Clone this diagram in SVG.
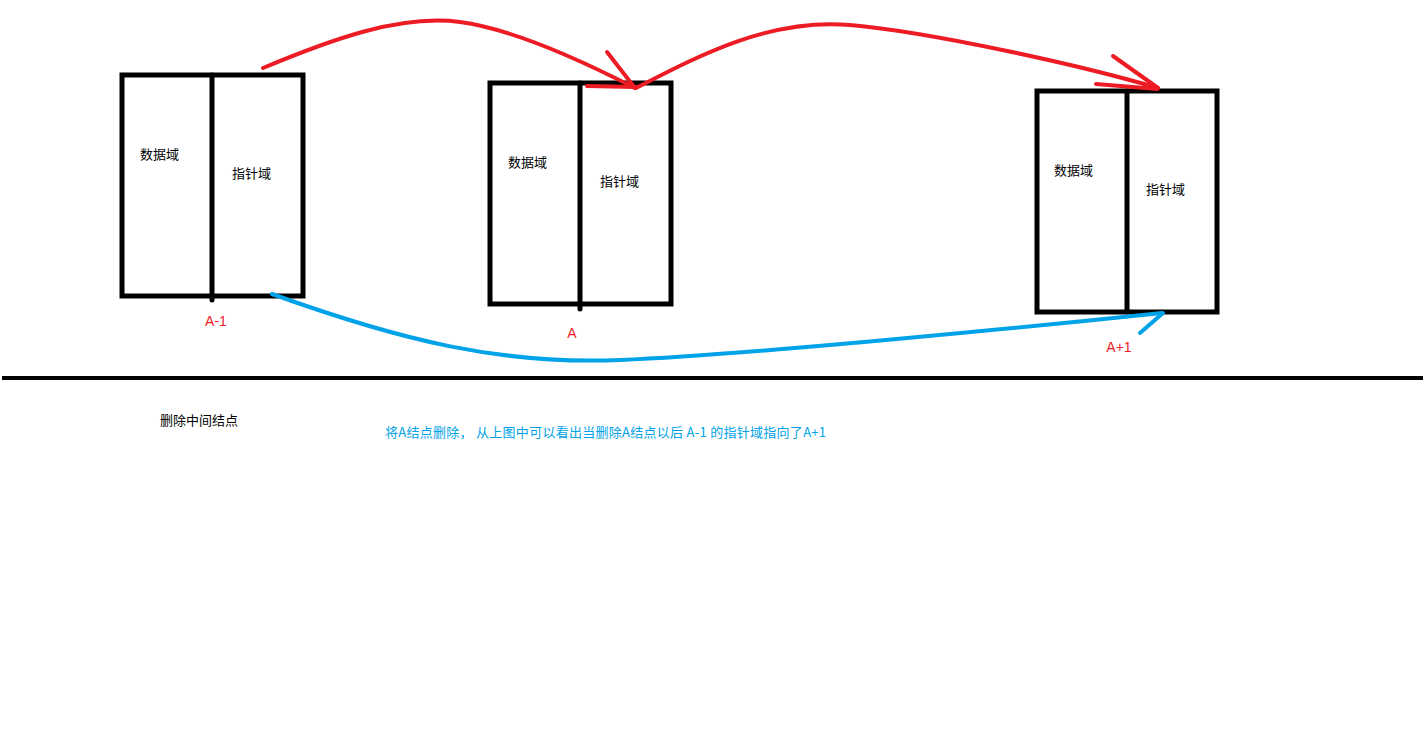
<svg xmlns="http://www.w3.org/2000/svg" width="1425" height="732" viewBox="0 0 1425 732">
<style>
.box{fill:none;stroke:#000;stroke-width:5}
.div{stroke:#000;stroke-width:5;stroke-linecap:round}
.lbl{font-family:"Microsoft YaHei","Noto Sans CJK SC",sans-serif;font-size:13px;fill:#000}
.red{fill:none;stroke:#ed1c24;stroke-width:4;stroke-linecap:round}
.blue{fill:none;stroke:#00a2e8;stroke-width:4;stroke-linecap:round}
.rt{font-family:"Liberation Sans","Noto Sans CJK SC",sans-serif;font-size:14px;fill:#ed1c24}
.bt{font-family:"Noto Sans CJK SC",sans-serif;font-size:13px;fill:#00a2e8}
</style>
<rect width="1425" height="732" fill="#fff"/>
<g id="node-a-1">
<rect class="box" x="122" y="75" width="181" height="221"/>
<line class="div" x1="212" y1="75" x2="212" y2="300"/>
<text class="lbl" x="140" y="159">数据域</text>
<text class="lbl" x="232" y="178">指针域</text>
<text class="rt" x="216" y="326" text-anchor="middle">A-1</text>
</g>
<g id="node-a">
<rect class="box" x="490" y="83" width="181" height="221"/>
<line class="div" x1="580" y1="83" x2="580" y2="309"/>
<text class="lbl" x="508" y="167">数据域</text>
<text class="lbl" x="600" y="186">指针域</text>
<text class="rt" x="572" y="338" text-anchor="middle">A</text>
</g>
<g id="node-a1">
<rect class="box" x="1037" y="91" width="180" height="221"/>
<line class="div" x1="1127" y1="91" x2="1127" y2="312"/>
<text class="lbl" x="1054" y="175">数据域</text>
<text class="lbl" x="1146" y="194">指针域</text>
<text class="rt" x="1119" y="352" text-anchor="middle">A+1</text>
</g>
<g id="connectors">
<path class="red" d="M263,68 C330,40 400,14 460,22 S600,70 635,88"/>
<path class="red" d="M607,52 L635,88 M587,86 L636,87"/>
<path class="red" d="M636,88 C700,55 770,18 850,25 S1080,65 1158,88"/>
<path class="red" d="M1113,56 L1158,88 M1096,84 L1157,89"/>
<path class="blue" d="M272,294 C400,340 500,365 620,360 S1000,330 1162,313"/>
<path class="blue" d="M1140,333 L1163,313"/>
</g>
<line x1="2" y1="378" x2="1423" y2="378" stroke="#000" stroke-width="4"/>
<text class="lbl" x="160" y="425">删除中间结点</text>
<text class="bt" x="385" y="437" textLength="441" lengthAdjust="spacing">将A结点删除， 从上图中可以看出当删除A结点以后 A-1 的指针域指向了A+1</text>
</svg>
